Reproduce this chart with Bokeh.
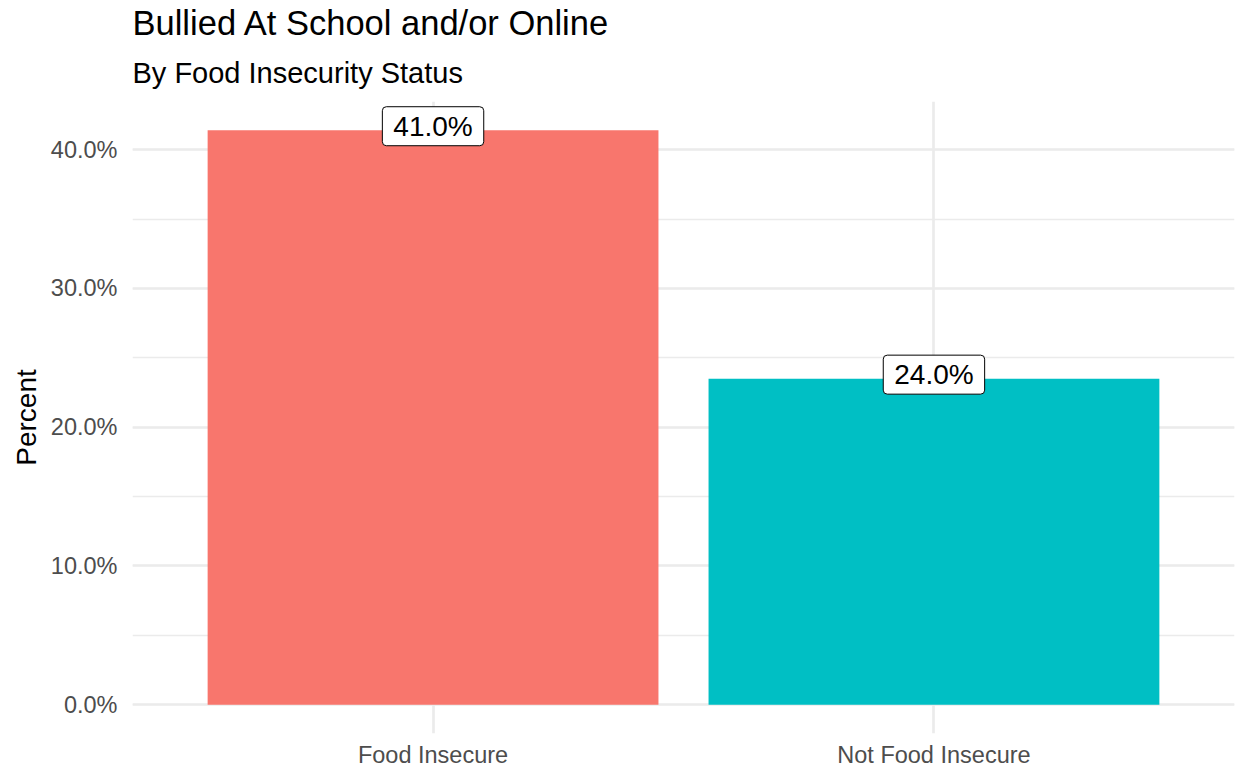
from bokeh.plotting import figure
from bokeh.models import (ColumnDataSource, Range1d, SingleIntervalTicker, FixedTicker,
                          PrintfTickFormatter, Title)
from bokeh.core.properties import value
from bokeh.embed import file_html
from bokeh.resources import INLINE

# ---- data ----
categories = ["Food Insecure", "Not Food Insecure"]
percent_bullied = [41.4, 23.5]
label_text = ["41.0%", "24.0%"]
bar_colors = ["#F8766D", "#00BFC4"]
y_ticks = [0, 10, 20, 30, 40]

FONT = "Liberation Sans"

positions = [i + 1 for i in range(len(categories))]
src = ColumnDataSource(dict(x=positions, top=percent_bullied, label=label_text,
                            color=bar_colors, cat=categories))

ymax = max(percent_bullied)
p = figure(width=1238, height=770, output_backend="svg", toolbar_location=None,
           x_range=Range1d(0.4, 2.6), y_range=Range1d(-0.05 * ymax, 1.05 * ymax),
           min_border_left=132, min_border_top=101, min_border_right=4, min_border_bottom=0)
p.outline_line_color = None
p.background_fill_color = "white"
p.border_fill_color = "white"

p.vbar(x="x", top="top", bottom=0, width=0.9, fill_color="color", line_color=None, source=src)

p.text(x="x", y="top", text="label", source=src, text_align="center",
       text_baseline="middle", y_offset=-4, text_font_size="28px", text_font=value(FONT),
       text_color="black", background_fill_color="white", border_line_color="black",
       border_line_width=1, border_radius=4, padding=(11, 4))

# axes
p.yaxis.ticker = FixedTicker(ticks=y_ticks)
p.yaxis.formatter = PrintfTickFormatter(format="%.1f%%")
p.xaxis.ticker = FixedTicker(ticks=positions)
p.xaxis.major_label_overrides = {pos: c for pos, c in zip(positions, categories)}
for ax in (p.xaxis, p.yaxis):
    ax.axis_line_color = None
    ax.major_tick_line_color = None
    ax.minor_tick_line_color = None
    ax.major_tick_out = 0
    ax.major_tick_in = 0
    ax.major_label_text_font = FONT
    ax.major_label_text_font_size = "23.5px"
    ax.major_label_text_color = "#4D4D4D"
p.yaxis.major_label_standoff = 15
p.xaxis.major_label_standoff = 8
p.yaxis.axis_label = "Percent"
p.yaxis.axis_label_text_font = FONT
p.yaxis.axis_label_text_font_size = "28px"
p.yaxis.axis_label_text_font_style = "normal"
p.yaxis.axis_label_text_color = "black"
p.yaxis.axis_label_standoff = 6

# grid
p.ygrid.ticker = SingleIntervalTicker(interval=10, num_minor_ticks=2)
p.ygrid.grid_line_color = "#EBEBEB"
p.ygrid.grid_line_width = 2.7
p.ygrid.minor_grid_line_color = "#EBEBEB"
p.ygrid.minor_grid_line_width = 1.4
p.xgrid.ticker = FixedTicker(ticks=positions)
p.xgrid.grid_line_color = "#EBEBEB"
p.xgrid.grid_line_width = 2.7

# titles
p.add_layout(Title(text="By Food Insecurity Status", text_font=FONT, text_font_size="29px",
                   text_font_style="normal", text_color="black", align="left", standoff=26), "above")
p.add_layout(Title(text="Bullied At School and/or Online", text_font=FONT, text_font_size="34.5px",
                   text_font_style="normal", text_color="black", align="left", standoff=0), "above")

open("out.html", "w").write(file_html(p, INLINE))
